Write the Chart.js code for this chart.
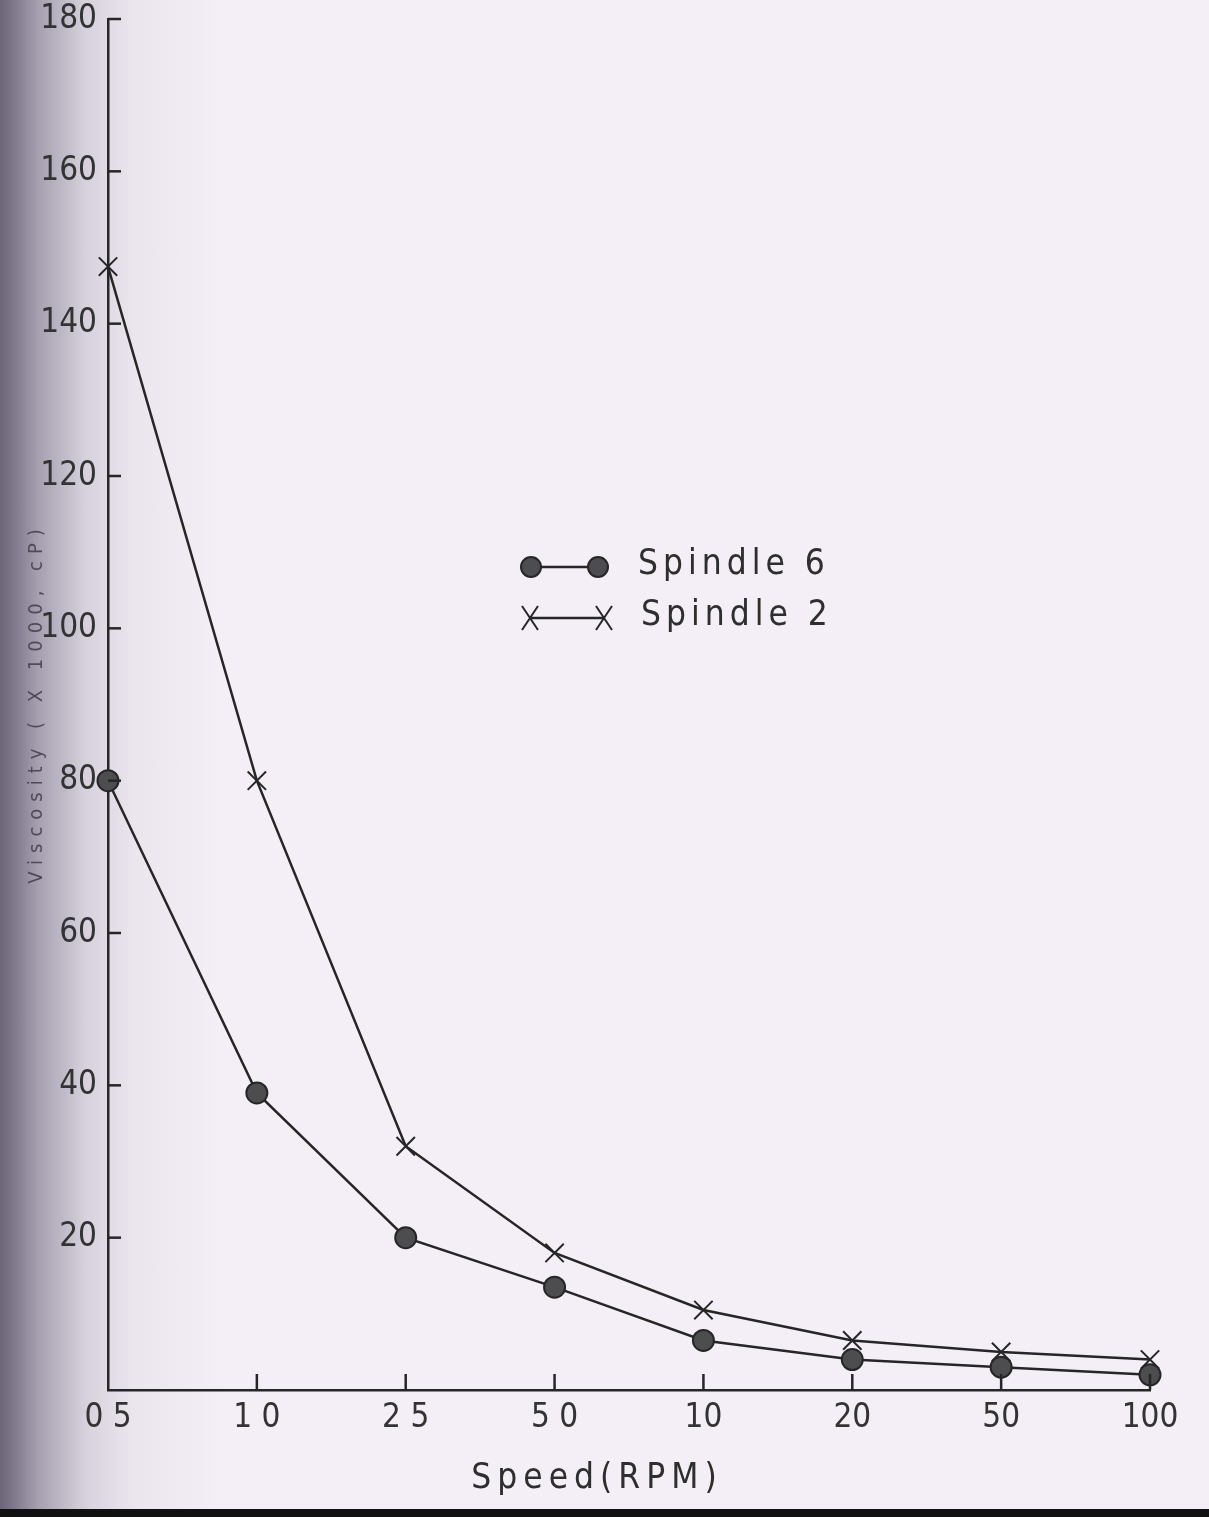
<!DOCTYPE html>
<html>
<head>
<meta charset="utf-8">
<script src="https://cdn.jsdelivr.net/npm/chart.js@4/dist/chart.umd.min.js"></script>
<style>
  html, body { margin: 0; padding: 0; }
  body {
    width: 1209px; height: 1517px; overflow: hidden; position: relative;
    background: linear-gradient(to right, #6c6477 0px, #7a7286 10px, #a59fb0 38px, #d6d1dc 85px, #ebe6ee 135px, #f4eef6 220px);
  }
  #wrap { position: absolute; left: 0; top: 0; width: 1209px; height: 1517px; }
  #edge { position: absolute; left: 0; right: 0; bottom: 0; height: 8px; background: #111; }
</style>
</head>
<body>
<div id="wrap"><canvas id="myChart"></canvas></div>
<div id="edge"></div>
<script>
// speeds in RPM, written as on the sheet
var speeds = ['0 5', '1 0', '2 5', '5 0', '10', '20', '50', '100'];
// viscosity (x 1000, cP)
var spindle6 = [80, 39, 20, 13.5, 6.5, 4, 3, 2];
var spindle2 = [147.5, 80, 32, 18, 10.5, 6.5, 5, 4];
var yTicks = [20, 40, 60, 80, 100, 120, 140, 160, 180];

var ink = '#262626';
var tickFont = { family: '"Liberation Sans Narrow", "DejaVu Sans Condensed", sans-serif', size: 33 };

function drawMark(ctx, style, x, y) {
  ctx.save();
  ctx.strokeStyle = ink;
  if (style === 'circle') {
    ctx.fillStyle = '#4d4d4f';
    ctx.lineWidth = 2;
    ctx.beginPath(); ctx.arc(x, y, 10, 0, Math.PI * 2); ctx.fill(); ctx.stroke();
  } else {
    ctx.lineWidth = 2;
    ctx.beginPath();
    ctx.moveTo(x - 8, y - 12); ctx.lineTo(x + 8, y + 12);
    ctx.moveTo(x + 8, y - 12); ctx.lineTo(x - 8, y + 12);
    ctx.stroke();
  }
  ctx.restore();
}

var decor = {
  id: 'decor',
  afterDraw: function (chart) {
    var ctx = chart.ctx, x = chart.scales.x, y = chart.scales.y;
    ctx.save();
    ctx.strokeStyle = ink;
    ctx.lineWidth = 2.5;
    // inward ticks on the y axis
    yTicks.forEach(function (v) {
      var py = y.getPixelForValue(v);
      ctx.beginPath(); ctx.moveTo(y.right, py); ctx.lineTo(y.right + 13, py); ctx.stroke();
    });
    // upward ticks on the x axis
    speeds.forEach(function (s, i) {
      if (i === 0) return;
      var px = x.getPixelForValue(i);
      ctx.beginPath(); ctx.moveTo(px, x.top); ctx.lineTo(px, x.top - 16); ctx.stroke();
    });

    // legend
    var rows = [
      { label: 'Spindle 6', style: 'circle', x1: 531, x2: 598, y: 567, tx: 638 },
      { label: 'Spindle 2', style: 'cross', x1: 530, x2: 604, y: 618, tx: 641 }
    ];
    ctx.font = '35px "Liberation Sans Narrow", "DejaVu Sans Condensed", sans-serif';
    ctx.letterSpacing = '5px';
    ctx.fillStyle = '#2e2e2e';
    ctx.textBaseline = 'middle';
    rows.forEach(function (r) {
      ctx.lineWidth = 2.5;
      ctx.beginPath(); ctx.moveTo(r.x1, r.y); ctx.lineTo(r.x2, r.y); ctx.stroke();
      drawMark(ctx, r.style, r.x1, r.y);
      drawMark(ctx, r.style, r.x2, r.y);
      ctx.fillText(r.label, r.tx, r.y - 2);
    });

    // x axis title
    ctx.letterSpacing = '6px';
    ctx.textAlign = 'center';
    ctx.fillText('Speed(RPM)', 597, 1479);

    // y axis title
    ctx.translate(37, 703);
    ctx.rotate(-Math.PI / 2);
    ctx.font = '20px "Liberation Sans Narrow", "DejaVu Sans Condensed", sans-serif';
    ctx.letterSpacing = '7px';
    ctx.fillStyle = '#4f4b56';
    ctx.fillText('Viscosity ( X 1000, cP)', 0, 0);
    ctx.restore();
  }
};

var ctx = document.getElementById('myChart');
var myChart = new Chart(ctx, {
  type: 'line',
  data: {
    labels: speeds,
    datasets: [{
      label: 'Spindle 6',
      data: spindle6,
      borderColor: ink,
      borderWidth: 2.5,
      pointStyle: 'circle',
      pointRadius: 10.5,
      pointBackgroundColor: '#4d4d4f',
      pointBorderColor: ink,
      pointBorderWidth: 2,
      tension: 0
    }, {
      label: 'Spindle 2',
      data: spindle2,
      borderColor: ink,
      borderWidth: 2.5,
      pointStyle: 'crossRot',
      pointRadius: 13,
      pointBorderColor: ink,
      pointBorderWidth: 2,
      tension: 0
    }]
  },
  options: {
    responsive: true,
    maintainAspectRatio: false,
    animation: false,
    layout: { padding: { left: 0, top: 19, right: 59, bottom: 0 } },
    plugins: {
      legend: { display: false },
      tooltip: { enabled: false }
    },
    scales: {
      x: {
        offset: false,
        grid: { display: false, drawTicks: false },
        border: { display: true, color: ink, width: 2.5 },
        ticks: { font: tickFont, color: '#333', padding: 9, maxRotation: 0, autoSkip: false },
        afterFit: function (s) { s.height = 127; }
      },
      y: {
        min: 0,
        max: 180,
        grid: { display: false, drawTicks: false },
        border: { display: true, color: ink, width: 2.5 },
        ticks: {
          stepSize: 20,
          font: tickFont,
          color: '#333',
          padding: 11,
          callback: function (v) { return v === 0 ? '' : v; }
        },
        afterFit: function (s) { s.width = 108; s.paddingTop = 0; s.paddingBottom = 0; }
      }
    }
  },
  plugins: [decor]
});
</script>
</body>
</html>
